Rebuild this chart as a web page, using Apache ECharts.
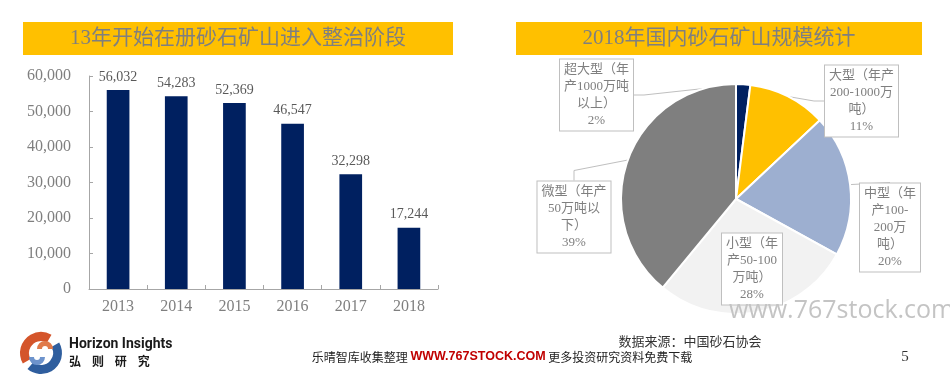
<!DOCTYPE html>
<html>
<head>
<meta charset="utf-8">
<script src="https://cdn.jsdelivr.net/npm/echarts@6/dist/echarts.min.js"></script>
<style>
html,body{margin:0;padding:0;background:#fff;}
#chart{width:950px;height:381px;}
</style>
</head>
<body>
<div id="chart"></div>
<script>
// ---- data ----
const barTitle = '13年开始在册砂石矿山进入整治阶段';
const pieTitle = '2018年国内砂石矿山规模统计';
const years = ['2013', '2014', '2015', '2016', '2017', '2018'];
const mineCounts = [56032, 54283, 52369, 46547, 32298, 17244];
const yTicks = [0, 10000, 20000, 30000, 40000, 50000, 60000];
const pieNames = ['超大型（年产1000万吨以上）', '大型（年产200-1000万吨）', '中型（年产100-200万吨）', '小型（年产50-100万吨）', '微型（年产50万吨以下）'];
const pieLabelText = ['超大型（年\n产1000万吨\n以上）', '大型（年产\n200-1000万\n吨）', '中型（年\n产100-\n200万\n吨）', '小型（年\n产50-100\n万吨）', '微型（年产\n50万吨以\n下）'];
const pieShares = [2, 11, 20, 28, 39];
const sourceText = '数据来源：中国砂石协会';
const footerLeft = '乐晴智库收集整理 ';
const footerUrl = 'WWW.767STOCK.COM';
const footerRight = ' 更多投资研究资料免费下载';
const pageNo = '5';
const watermark = 'www.767stock.com';

// ---- style / layout ----
const SERIF = "'Liberation Serif','Noto Sans CJK SC'";
const pieColors = ['#002060', '#FFC000', '#9DAFD0', '#F2F2F2', '#7F7F7F'];
const pieLabelPos = [[596.5, 95], [861.5, 101], [890, 227.5], [752, 269], [574, 217]];
const pieLabelLineShow = [true, true, true, false, true];

const chart = echarts.init(document.getElementById('chart'), null, {renderer: 'canvas'});
const fmt = v => Number(v).toLocaleString('en-US');

const option = {
  animation: false,
  backgroundColor: '#fff',
  grid: {left: 89, top: 76, width: 349, height: 213},
  xAxis: {
    type: 'category',
    data: years,
    axisLine: {lineStyle: {color: '#a6a6a6', width: 1}},
    axisTick: {show: true, inside: true, length: 4, lineStyle: {color: '#a6a6a6'}},
    axisLabel: {color: '#7f7f7f', fontSize: 16, fontFamily: SERIF, margin: 10}
  },
  yAxis: {
    type: 'value',
    min: yTicks[0],
    max: yTicks[yTicks.length - 1],
    interval: yTicks[1] - yTicks[0],
    axisLine: {show: true, lineStyle: {color: '#a6a6a6', width: 1}},
    axisTick: {show: true, inside: true, length: 4, lineStyle: {color: '#a6a6a6'}},
    splitLine: {show: false},
    axisLabel: {color: '#7f7f7f', fontSize: 16, fontFamily: SERIF, margin: 18, formatter: fmt}
  },
  series: [
    {
      type: 'bar',
      data: mineCounts,
      barWidth: '39%',
      itemStyle: {color: '#002060'},
      label: {show: true, position: 'top', distance: 6, color: '#595959', fontSize: 14, fontFamily: SERIF,
        formatter: p => fmt(p.value)}
    },
    {
      type: 'pie',
      center: [736, 199],
      radius: 115,
      startAngle: 90,
      clockwise: true,
      avoidLabelOverlap: false,
      itemStyle: {borderColor: '#fff', borderWidth: 2},
      data: pieNames.map((n, i) => ({
        name: n, value: pieShares[i],
        itemStyle: {color: pieColors[i]},
        labelLine: {show: pieLabelLineShow[i]}
      })),
      label: {
        show: true, position: 'outside',
        formatter: p => pieLabelText[p.dataIndex] + '\n' + p.value + '%',
        color: '#7f7f7f', fontSize: 13, lineHeight: 17, fontFamily: SERIF,
        backgroundColor: '#fff', borderColor: '#bfbfbf', borderWidth: 1, padding: [2, 4, 1, 4],
        align: 'center'
      },
      labelLine: {show: true, length: 10, length2: 10, lineStyle: {color: '#bfbfbf', width: 1}},
      labelLayout: params => ({
        x: pieLabelPos[params.dataIndex][0],
        y: pieLabelPos[params.dataIndex][1],
        align: 'center',
        verticalAlign: 'middle'
      }),
      emphasis: {disabled: true}
    }
  ],
  graphic: [
    {type: 'rect', shape: {x: 23, y: 22, width: 430, height: 33}, style: {fill: '#FFC000'}, z: 1},
    {type: 'text', x: 238, y: 38.5, style: {text: barTitle, font: "21px " + SERIF, fill: '#7f7f7f', align: 'center', verticalAlign: 'middle'}, z: 2},
    {type: 'rect', shape: {x: 516, y: 22, width: 406, height: 33}, style: {fill: '#FFC000'}, z: 1},
    {type: 'text', x: 719, y: 38.5, style: {text: pieTitle, font: "21px " + SERIF, fill: '#7f7f7f', align: 'center', verticalAlign: 'middle'}, z: 2},
    // watermark
    {type: 'text', x: 729, y: 311, style: {text: watermark, font: "25px 'Open Sans'", fill: '#c4c4c4', align: 'left', verticalAlign: 'middle'}, z: 100},
    // logo
    {type: 'sector', shape: {cx: 41, cy: 353, r: 21, r0: 12, startAngle: Math.PI * 150 / 180, endAngle: Math.PI * 300 / 180}, style: {fill: '#D4552B'}, z: 5},
    {type: 'sector', shape: {cx: 41, cy: 353, r: 21, r0: 12, startAngle: -Math.PI * 30 / 180, endAngle: Math.PI * 130 / 180}, style: {fill: '#2F5E9E'}, z: 5},
    {type: 'sector', shape: {cx: 45, cy: 349, r: 8, r0: 3, startAngle: Math.PI, endAngle: Math.PI * 2}, style: {fill: '#E07A4A'}, z: 5},
    {type: 'sector', shape: {cx: 37, cy: 357, r: 8, r0: 3, startAngle: 0, endAngle: Math.PI}, style: {fill: '#6D93CC'}, z: 5},
    {type: 'text', x: 69, y: 344, style: {text: 'Horizon Insights', font: "bold 14px 'Liberation Sans Narrow','Roboto'", fill: '#1a1a1a', verticalAlign: 'middle'}, z: 5},
    {type: 'text', x: 69, y: 361, style: {text: '弘    则    研    究', font: "bold 12px 'Noto Sans CJK SC'", fill: '#1a1a1a', verticalAlign: 'middle'}, z: 5},
    // source
    {type: 'text', x: 690, y: 341, style: {text: sourceText, font: "13px 'Noto Sans CJK SC'", fill: '#333', align: 'center', verticalAlign: 'middle'}, z: 5},
    // footer center
    {type: 'text', x: 502, y: 357, style: {
      text: '{a|' + footerLeft + '}{b|' + footerUrl + '}{a|' + footerRight + '}',
      align: 'center', verticalAlign: 'middle',
      rich: {
        a: {font: "12px 'Noto Sans CJK SC'", fill: '#222'},
        b: {font: "bold 12.5px 'Liberation Sans'", fill: '#C00000'}
      }
    }, z: 5},
    {type: 'text', x: 905, y: 357, style: {text: pageNo, font: "15px " + SERIF, fill: '#333', align: 'center', verticalAlign: 'middle'}, z: 5}
  ]
};
chart.setOption(option);
</script>
</body>
</html>
